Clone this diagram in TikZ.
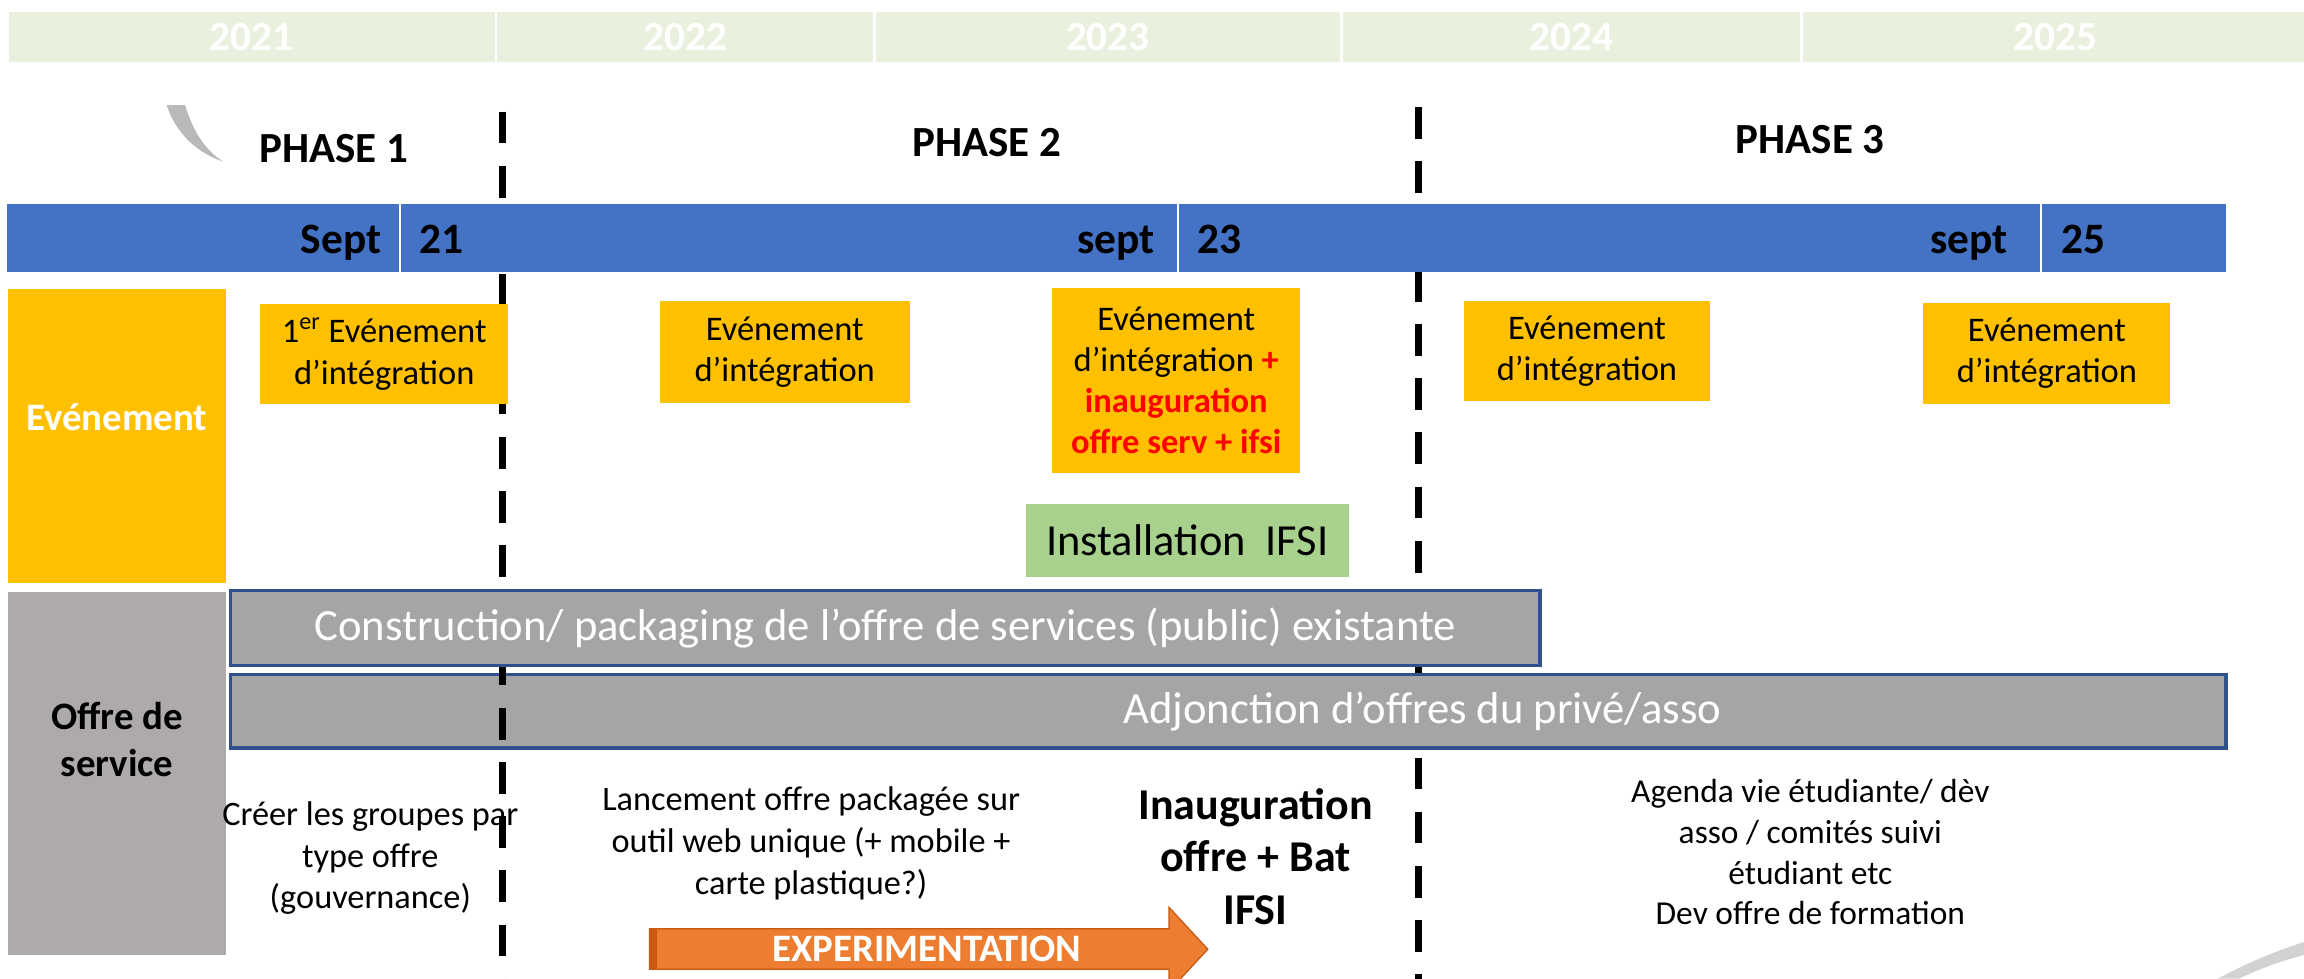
\documentclass[tikz,border=0pt]{standalone}
\usepackage{fontspec}
\setmainfont{Carlito}
\usepackage{tikz}
\usetikzlibrary{positioning, calc}
\usepackage{xcolor}

\definecolor{yeargreen}{HTML}{E9F1DE}
\definecolor{bandblue}{HTML}{4472C4}
\definecolor{eventgold}{HTML}{FFC000}
\definecolor{lanegray}{HTML}{AEAAAA}
\definecolor{bargray}{HTML}{A5A5A5}
\definecolor{baredge}{HTML}{2F528F}
\definecolor{ifsigreen}{HTML}{A9D18E}
\definecolor{expoorange}{HTML}{ED7D31}
\definecolor{expoedge}{HTML}{C55A11}
\definecolor{alertred}{HTML}{FF0000}

\begin{document}
\begin{tikzpicture}[
    font=\fontsize{16.7}{19.9}\selectfont,
    % Node styles
    yearcell/.style={rectangle, fill=yeargreen, draw=white, line width=1.2pt, minimum height=0.89cm, inner sep=0pt, text=white, font=\fontsize{20}{23}\selectfont\bfseries},
    phase/.style={font=\fontsize{20.8}{24}\selectfont\bfseries},
    month/.style={font=\fontsize{21}{24}\selectfont\bfseries, inner sep=0pt},
    eventbox/.style={rectangle, fill=eventgold, align=center, inner sep=0pt, minimum width=4.2cm},
    lanebox/.style={rectangle, inner sep=0pt, minimum width=3.72cm},
    lanelabel/.style={align=center, font=\fontsize{18.8}{22.5}\selectfont\bfseries},
    offerbar/.style={rectangle, fill=bargray, draw=baredge, line width=1.6pt, inner sep=0pt, text=white, font=\fontsize{21.6}{25}\selectfont},
    phasecut/.style={line width=3.5pt, dash pattern=on 0.54cm off 0.382cm},
    note/.style={align=center, font=\fontsize{16.6}{20.2}\selectfont},
]

\useasboundingbox (0,0) rectangle (39.2,16.65);

% ============================================================================
% TOP: YEARS AND PHASES
% ============================================================================
\foreach \xa/\xb/\yr in {0.13/8.44/2021, 8.44/14.875/2022, 14.875/22.825/2023, 22.825/30.65/2024, 30.65/39.3/2025} {
    \node[yearcell, minimum width={(\xb-\xa)*1cm}] (y\yr) at ({(\xa+\xb)/2}, 16.02) {\yr};
}

% swoosh
\fill[gray!55] (2.835,14.86) .. controls (2.95,14.5) and (3.25,14.08) .. (3.8,13.9)
    .. controls (3.55,14.05) and (3.3,14.35) .. (3.15,14.86) -- cycle;

\node[phase] (phase1) at (5.675, 14.125) {PHASE 1};
\node[phase] (phase2) at (16.79, 14.225) {PHASE 2};
\node[phase] (phase3) at (30.8, 14.275) {PHASE 3};

% phase limits
\coordinate (cutAtop) at (8.55, 14.75);
\coordinate (cutAbot) at (8.55, -0.2);
\coordinate (cutBtop) at (24.14, 14.825);
\coordinate (cutBbot) at (24.14, -0.2);

\draw[phasecut] (cutBtop) -- (cutBbot);

% ============================================================================
% SERVICE OFFER BARS
% ============================================================================
\node[offerbar, minimum width=33.95cm, minimum height=1.25cm] (addbar) at (20.9, 4.55) {};
\node[text=white, font=\fontsize{21.6}{25}\selectfont] (addtext) at (24.2, 4.55) {Adjonction d’offres du privé/asso};

\draw[phasecut] (cutAtop) -- (cutAbot);

\node[offerbar, minimum width=22.275cm, minimum height=1.275cm] (consbar) at (15.0625, 5.9625)
    {Construction/ packaging de l’offre de services (public) existante};

% ============================================================================
% MONTH BAND
% ============================================================================
\node[rectangle, fill=bandblue, minimum width=37.75cm, minimum height=1.15cm, inner sep=0pt] (band) at (19.0, 12.6) {};
\foreach \sx in {6.805, 20.04, 34.725} {
    \draw[white, line width=1pt] (\sx, 12.025) -- (\sx, 13.175);
}
\node[month, anchor=base east] (sept21) at (6.495, 12.3375) {Sept};
\node[month, anchor=base west] (yr21) at (7.13, 12.3375) {21};
\node[month, anchor=base east] (sept23) at (19.65, 12.3375) {sept};
\node[month, anchor=base west] (yr23) at (20.365, 12.3375) {23};
\node[month, anchor=base east] (sept25) at (34.16, 12.3375) {sept};
\node[month, anchor=base west] (yr25) at (35.065, 12.3375) {25};

% ============================================================================
% LANES
% ============================================================================
\node[lanebox, fill=eventgold, minimum height=5.0cm] (evlane) at (1.99, 9.225) {};
\node[lanelabel, text=white] (evlabel) at (1.99, 9.55) {Evénement};

\node[lanebox, fill=lanegray, minimum height=6.175cm] (offlane) at (1.99, 3.4875) {};
\node[lanelabel] (offlabel) at (1.99, 4.07) {Offre de\\service};

% ============================================================================
% EVENTS
% ============================================================================
\node[eventbox, minimum width=4.225cm, minimum height=1.7cm] (event1) at (6.5375, 10.625)
    {1\textsuperscript{er} Evénement\\d’intégration};
\node[eventbox, minimum width=4.25cm, minimum height=1.725cm] (event2) at (13.35, 10.6625)
    {Evénement\\d’intégration};
\node[eventbox, minimum width=4.225cm, minimum height=3.15cm] (event3) at (20.0125, 10.175)
    {Evénement\\d’intégration \textcolor{alertred}{\textbf{+}}\\
    \textcolor{alertred}{\textbf{inauguration}}\\
    \textcolor{alertred}{\textbf{offre serv + ifsi}}};
\node[eventbox, minimum height=1.7cm] (event4) at (27.0, 10.675)
    {Evénement\\d’intégration};
\node[eventbox, minimum height=1.725cm] (event5) at (34.825, 10.6375)
    {Evénement\\d’intégration};

\node[rectangle, fill=ifsigreen, minimum width=5.5cm, minimum height=1.25cm, inner sep=0pt,
    font=\fontsize{21.5}{25}\selectfont] (ifsi) at (20.2, 7.45) {Installation~~IFSI};

% ============================================================================
% BOTTOM: ACTIONS
% ============================================================================
\node[note] (groups) at (6.3, 2.05) {Créer les groupes par\\type offre\\(gouvernance)};
\node[note] (launch) at (13.8, 2.3) {Lancement offre packagée sur\\outil web unique (+ mobile +\\carte plastique?)};
\node[note, font=\fontsize{21.3}{25.2}\selectfont\bfseries] (inaug) at (21.36, 2.075) {Inauguration\\offre + Bat\\IFSI};
\node[note, font=\fontsize{16.2}{19.7}\selectfont] (agenda) at (30.8, 2.15)
    {Agenda vie étudiante/ dèv\\asso / comités suivi\\étudiant etc\\Dev offre de formation};

% Experimentation arrow
\draw[fill=expoorange, draw=expoedge, line width=0.6pt] (11.05,0.85) -- (19.89,0.85) -- (19.89,1.2125)
    -- (20.55,0.5) -- (19.89,-0.2125) -- (19.89,0.1575) -- (11.05,0.1575) -- cycle;
\fill[expoedge] (11.05,0.1575) rectangle (11.17,0.85);
\node[text=white, font=\fontsize{18.8}{21}\selectfont\bfseries] (expo) at (15.77, 0.5) {EXPERIMENTATION};

% page curl
\fill[gray!35] (37.73,0) .. controls (38.3,0.3) and (38.8,0.5) .. (39.2,0.62)
    -- (39.2,0.4) .. controls (38.8,0.3) and (38.4,0.15) .. (38.1,0) -- cycle;

\end{tikzpicture}
\end{document}
